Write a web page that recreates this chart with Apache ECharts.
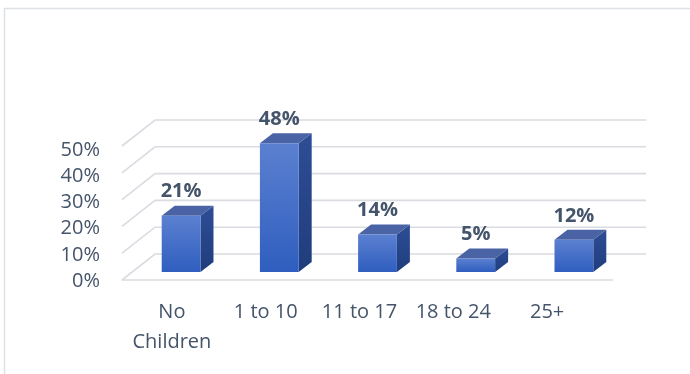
<!DOCTYPE html>
<html>
<head>
<meta charset="utf-8">
<script src="https://cdn.jsdelivr.net/npm/echarts@6/dist/echarts.min.js"></script>
<style>html,body{margin:0;padding:0;background:#fff;}#c{width:690px;height:374px;}</style>
</head>
<body>
<div id="c"></div>
<script>
const categories = ['No Children', '1 to 10', '11 to 17', '18 to 24', '25+'];
const values = [21, 48, 14, 5, 12];
const yTicks = [0, 10, 20, 30, 40, 50];

const TEXT = '#44546A';
const GRID_LINE = '#d9dce1';
const WALL = [33, -26];     // depth of the back wall
const BAR_OFF = [10, -8];   // bar placement inside the floor
const BAR_DEPTH = [13, -10];

const chart = echarts.init(document.getElementById('c'));

function wallItem(params, api) {
  const v = api.value(0);
  const cs = params.coordSys;
  const p = api.coord([0, v]);
  const y = p[1];
  const x = cs.x;
  const children = [{
    type: 'polyline',
    shape: { points: [[x, y], [x + WALL[0], y + WALL[1]], [x + cs.width + WALL[0], y + WALL[1]]] },
    style: { stroke: GRID_LINE, lineWidth: 1.6, fill: null }
  }];
  if (v === 0) {
    children.push({
      type: 'line',
      shape: { x1: x, y1: y, x2: x + cs.width, y2: y },
      style: { stroke: GRID_LINE, lineWidth: 1.6 }
    });
  }
  return { type: 'group', children };
}

function barItem(params, api) {
  const idx = api.value(0), v = api.value(1);
  const top = api.coord([idx, v]);
  const base = api.coord([idx, 0]);
  const bw = api.size([1, 0])[0] * 0.395;
  const cx = top[0] + BAR_OFF[0];
  const x0 = cx - bw / 2, x1 = cx + bw / 2;
  const yt = top[1] + BAR_OFF[1], yb = base[1] + BAR_OFF[1];
  const dx = BAR_DEPTH[0], dy = BAR_DEPTH[1];
  return {
    type: 'group',
    children: [
      {
        type: 'polygon',
        shape: { points: [[x1, yt], [x1 + dx, yt + dy], [x1 + dx, yb + dy], [x1, yb]] },
        style: { fill: new echarts.graphic.LinearGradient(0, 0, 0, 1, [
          { offset: 0, color: '#2d4d96' }, { offset: 1, color: '#203d7c' }]) }
      },
      {
        type: 'polygon',
        shape: { points: [[x0, yt], [x0 + dx, yt + dy], [x1 + dx, yt + dy], [x1, yt]] },
        style: { fill: '#4a63a5' }
      },
      {
        type: 'rect',
        shape: { x: x0, y: yt, width: bw, height: yb - yt },
        style: { fill: new echarts.graphic.LinearGradient(0, 0, 0, 1, [
          { offset: 0, color: '#5b80d0' }, { offset: 1, color: '#2f5ebf' }]) }
      },
      {
        type: 'text',
        style: {
          x: cx, y: yt - 24, text: v + '%',
          align: 'center', verticalAlign: 'middle',
          font: 'bold 20px "Open Sans", sans-serif', fill: TEXT
        }
      }
    ]
  };
}

chart.setOption({
  animation: false,
  backgroundColor: '#fff',
  graphic: [{
    type: 'rect',
    shape: { x: 4.5, y: 8.5, width: 720, height: 420 },
    style: { fill: null, stroke: '#dde1e6', lineWidth: 1.5 },
    silent: true
  }],
  grid: [
    { left: 122, right: 77, top: 146, bottom: 94 },
    { left: 125, right: 96, top: 150, bottom: 93 }
  ],
  xAxis: [
    { type: 'category', gridIndex: 0, data: categories, boundaryGap: true,
      axisLine: { show: false }, axisTick: { show: false }, axisLabel: { show: false }, splitLine: { show: false } },
    { type: 'category', gridIndex: 1, data: categories, boundaryGap: true,
      axisLine: { show: false }, axisTick: { show: false }, splitLine: { show: false },
      axisLabel: {
        color: TEXT, fontSize: 20, fontFamily: '"Open Sans", sans-serif', lineHeight: 30, margin: 16,
        interval: 0,
        formatter: v => (v === 'No Children' ? 'No\nChildren' : v)
      } }
  ],
  yAxis: [
    { type: 'value', gridIndex: 0, min: 0, max: 50, interval: 10,
      axisLine: { show: false }, axisTick: { show: false }, axisLabel: { show: false }, splitLine: { show: false } },
    { type: 'value', gridIndex: 1, min: 0, max: 50, interval: 10,
      axisLine: { show: false }, axisTick: { show: false }, splitLine: { show: false },
      axisLabel: { color: TEXT, fontSize: 20, fontFamily: '"Open Sans", sans-serif', margin: 25, formatter: '{value}%' } }
  ],
  series: [
    {
      type: 'custom', xAxisIndex: 0, yAxisIndex: 0, z: 1, silent: true,
      renderItem: wallItem,
      encode: { y: 0 },
      data: yTicks.map(t => [t])
    },
    {
      type: 'custom', xAxisIndex: 0, yAxisIndex: 0, z: 2, silent: true,
      renderItem: barItem,
      encode: { x: 0, y: 1 },
      data: values.map((v, i) => [i, v])
    }
  ]
});
</script>
</body>
</html>
